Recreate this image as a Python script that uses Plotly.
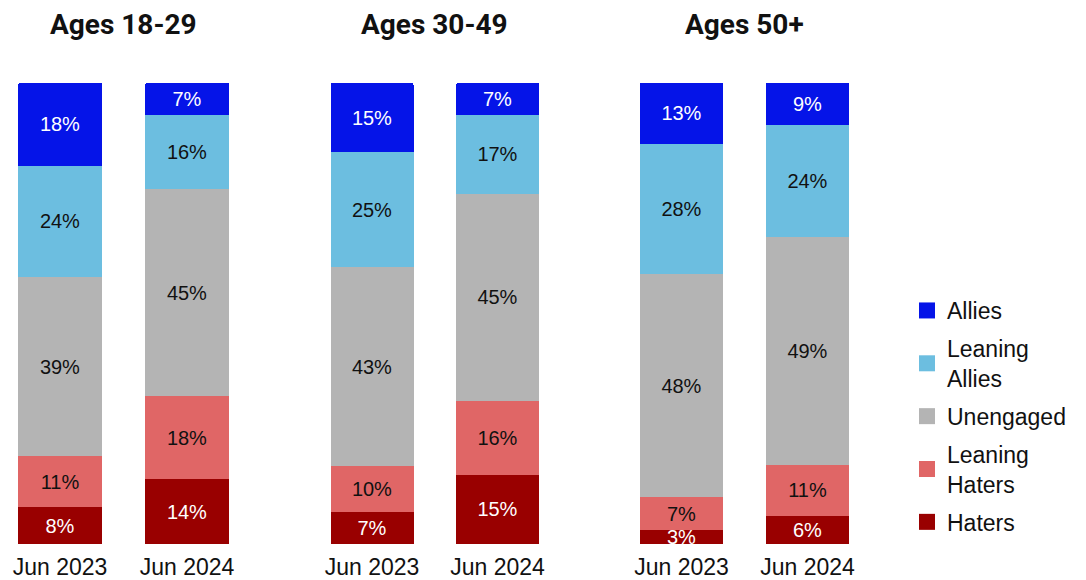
import plotly.graph_objects as go
from plotly.subplots import make_subplots

# the page body adds an 8px margin, so work in page pixels minus that offset
OFF = 8
W, H = 1086 - OFF, 580 - OFF

groups = ["Ages 18-29", "Ages 30-49", "Ages 50+"]
periods = ["Jun 2023", "Jun 2024"]

segments = ["Haters", "Leaning<br>Haters", "Unengaged", "Leaning<br>Allies", "Allies"]
colors = ["#990000", "#e06666", "#b4b4b4", "#6cbee0", "#0514e8"]
text_colors = ["white", "#111111", "#111111", "#111111", "white"]
# the overflowing white labels on the thin dark bars get a dark outline
text_shadows = ["-1px -1px 0 #990000, 1px -1px 0 #990000, -1px 1px 0 #990000, 1px 1px 0 #990000",
                "none", "none", "none", "none"]

# values per segment (bottom to top), [Jun 2023, Jun 2024] per age group
haters = [[8, 14], [7, 15], [3, 6]]
leaning_haters = [[11, 18], [10, 16], [7, 11]]
unengaged = [[39, 45], [43, 45], [48, 49]]
leaning_allies = [[24, 16], [25, 17], [28, 24]]
allies = [[18, 7], [15, 7], [13, 9]]
values = [haters, leaning_haters, unengaged, leaning_allies, allies]

# page-pixel centres of the two bars in each panel
centres = [(60, 187), (372, 497.5), (681.5, 807.5)]
plot_top, plot_bottom = 83 - OFF, 544 - OFF

fig = make_subplots(rows=1, cols=3)

for g in range(3):
    for s, name in enumerate(segments):
        vals = values[s][g]
        fig.add_trace(
            go.Bar(
                x=periods,
                y=vals,
                name=name,
                showlegend=False,
                marker=dict(color=colors[s], line=dict(width=0)),
                text=[f"{v}%" for v in vals],
                textposition="inside",
                insidetextanchor="middle",
                textangle=0,
                textfont=dict(color=text_colors[s], size=20, shadow=text_shadows[s]),
                hoverinfo="skip",
            ),
            row=1,
            col=g + 1,
        )

# legend entries with larger square swatches, Allies listed first
for s in reversed(range(len(segments))):
    fig.add_trace(
        go.Scatter(
            x=[None], y=[None], mode="markers", name=segments[s],
            legendgroup=segments[s],
            marker=dict(symbol="square", size=16, color=colors[s]),
            hoverinfo="skip",
        ),
        row=1, col=1,
    )


def span(c0, c1):
    c0, c1 = c0 - OFF, c1 - OFF
    step = c1 - c0
    lo, hi = c0 - step / 2, c1 + step / 2
    r0 = -0.5
    if lo < 0:
        r0 = -0.5 - lo / step
        lo = 0
    return [lo / W, hi / W], [r0, 1.5]


for g, (c0, c1) in enumerate(centres):
    dom, rng = span(c0, c1)
    fig.update_xaxes(
        domain=dom, range=rng, showgrid=False, zeroline=False, showline=False,
        ticks="outside", ticklen=2, tickcolor="rgba(0,0,0,0)",
        tickfont=dict(size=23, color="#111111"), automargin=False,
        row=1, col=g + 1,
    )
    fig.update_yaxes(
        range=[0, 100], visible=False, showgrid=False, row=1, col=g + 1,
    )
    fig.add_annotation(
        text=f"<b>{groups[g]}</b>",
        x=((c0 + c1) / 2 - OFF) / W, xref="paper", xanchor="center",
        y=(plot_bottom - (24 - OFF)) / (plot_bottom - plot_top), yref="paper",
        yanchor="middle", showarrow=False,
        font=dict(family="Roboto", size=28, color="#111111"),
    )

fig.update_layout(
    width=W,
    height=H,
    barmode="stack",
    barnorm="percent",
    bargap=1 - 84 / 127,
    barcornerradius=2,
    plot_bgcolor="white",
    paper_bgcolor="white",
    margin=dict(l=0, r=0, t=plot_top, b=H - plot_bottom),
    font=dict(family="Liberation Sans, Arial, sans-serif", color="#111111"),
    uniformtext=dict(mode="show", minsize=20),
    legend=dict(
        x=(907 - OFF) / W,
        y=(plot_bottom - (289 - OFF)) / (plot_bottom - plot_top),
        xanchor="left",
        yanchor="top",
        traceorder="grouped",
        tracegroupgap=5,
        font=dict(size=23, color="#111111"),
        bgcolor="rgba(0,0,0,0)",
    ),
)

fig.write_html("out.html")
